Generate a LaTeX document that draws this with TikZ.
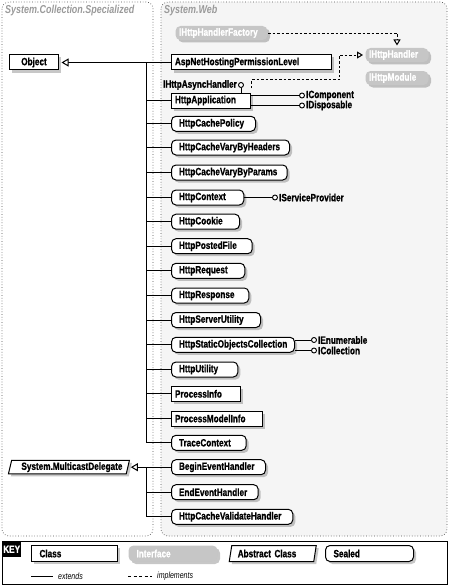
\documentclass[tikz,border=0pt]{standalone}
\usepackage{fontspec}
\setmainfont{Liberation Sans}[FakeStretch=0.78, BoldFeatures={FakeBold=0.9}]
\usetikzlibrary{arrows.meta,shapes.geometric,shadows,calc}
\hyphenpenalty=10000
\exhyphenpenalty=10000
\definecolor{regfill}{HTML}{F5F5F5}
\definecolor{ifill}{HTML}{C6C6C6}
\definecolor{titlegray}{HTML}{9A9A9A}
\definecolor{dotgray}{HTML}{505050}
\begin{document}
\begin{tikzpicture}[x=1pt,y=-1pt,
  fnt/.style={font=\bfseries\fontsize{10.5}{12}\selectfont},
  bx/.style={fnt, anchor=west, minimum height=15pt, inner ysep=0pt, align=left, line width=1pt,
    drop shadow={shadow xshift=2.5pt,shadow yshift=-2.5pt,fill=black,opacity=0.22}},
  cls/.style={bx, draw, fill=white, inner xsep=3.5pt},
  sld/.style={bx, draw, fill=white, rounded corners=4.5pt, inner xsep=7.5pt},
  ifc/.style={bx, fill=ifill, text=white, rounded corners=5pt, inner xsep=3.5pt, minimum height=14pt},
  abst/.style={bx, draw, fill=white, trapezium, trapezium left angle=72, trapezium right angle=108,
    trapezium stretches body, inner xsep=3pt},
  tw/.style={text width=#1pt},
  ln/.style={line width=1pt, draw=black},
  ext/.style={ln, -{Triangle[width=8pt,length=7pt,fill=white,line width=1pt]}, shorten >=2.5pt},
  impl/.style={line width=0.7pt, dash pattern=on 2.5pt off 2pt,
    -{Triangle[width=7pt,length=6pt,fill=white,line width=1pt]}, shorten >=2pt},
  lolli/.style={circle, draw, line width=0.9pt, fill=white, inner sep=0pt, minimum size=5pt},
  llbl/.style={fnt, inner sep=1pt},
  region/.style={draw=dotgray, line width=0.7pt, dotted, rounded corners=7pt},
  ttl/.style={font=\bfseries\itshape\fontsize{11.5}{13}\selectfont, text=titlegray, anchor=west, inner sep=0pt}
]
\useasboundingbox (0,0) rectangle (449,586);

% regions
\draw[region] (2,2) rectangle (153,536);
\draw[region, fill=regfill] (161,2) rectangle (447,536);
\node[ttl] (t1) at (5,11) {System.Collection.Specialized};
\node[ttl] (t2) at (164,11) {System.Web};

% nodes
\node[cls, tw=42, align=center] (obj) at (9,62.5) {Object};
\node[cls, tw=153] (asp) at (171,62.5) {AspNetHostingPermissionLevel};
\node[ifc, tw=85] (ihf) at (175,33) {IHttpHandlerFactory};
\node[ifc, tw=56] (ihh) at (365,55) {IHttpHandler};
\node[ifc, tw=56] (ihm) at (365,78) {IHttpModule};
\node[cls, tw=72] (hap) at (171,100.5) {HttpApplication};
\node[sld, tw=69] (hcp) at (171,123.8) {HttpCachePolicy};
\node[sld, tw=103] (hvh) at (171,147.5) {HttpCacheVaryByHeaders};
\node[sld, tw=100.7] (hvp) at (171,172.5) {HttpCacheVaryByParams};
\node[sld, tw=57.3] (hctx) at (171,197.5) {HttpContext};
\node[sld, tw=53] (hck) at (171,221.7) {HttpCookie};
\node[sld, tw=65.7] (hpf) at (171,246.2) {HttpPostedFile};
\node[sld, tw=58.3] (hrq) at (171,270.8) {HttpRequest};
\node[sld, tw=62.3] (hrs) at (171,295.5) {HttpResponse};
\node[sld, tw=74] (hsu) at (171,320) {HttpServerUtility};
\node[sld, tw=108] (hsoc) at (171,344.8) {HttpStaticObjectsCollection};
\node[sld, tw=51.3] (hut) at (171,369.5) {HttpUtility};
\node[cls, tw=62] (pin) at (171,393.8) {ProcessInfo};
\node[cls, tw=84.3] (pmi) at (171,418.5) {ProcessModelInfo};
\node[sld, tw=59.7] (trc) at (171,442.8) {TraceContext};
\node[sld, tw=79] (beh) at (171,467.2) {BeginEventHandler};
\node[sld, tw=71.7] (eeh) at (171,492.2) {EndEventHandler};
\node[sld, tw=106.3] (hcv) at (171,516.8) {HttpCacheValidateHandler};
\node[abst, tw=95, minimum width=121pt, minimum height=13.5pt] (md) at (9.5,467.2) {System.MulticastDelegate};

% extends connectors
\coordinate (tk) at (146,62.5);
\coordinate (tk2) at (146,467.2);
\draw[ext] (asp.west) -- (obj.east);
\foreach \n in {hap,hcp,hvh,hvp,hctx,hck,hpf,hrq,hrs,hsu,hsoc,hut,pin,pmi,trc}
  \draw[ln] (tk) |- (\n.west);
\draw[ext] (beh.west) -- (md.east);
\foreach \n in {eeh,hcv}
  \draw[ln] (tk2) |- (\n.west);

% implements (dashed)
\coordinate (hstub) at (251.5,88);
\coordinate (bend) at (339.5,79.5);
\draw[impl] (hstub) |- (bend) |- (ihh.west);
\draw[impl] (ihf.east) -| (ihh.north);

% lollipops
\node[lolli] (casync) at (241,85) {};
\draw[ln] (casync) -- (casync |- hap.north);
\node[llbl, anchor=east] (lasync) at (casync.west) {IHttpAsyncHandler};
\node[lolli] (ccomp) at (302,95.5) {};
\draw[ln] (hap.east |- ccomp) -- (ccomp);
\node[llbl, anchor=west] (lcomp) at (ccomp.east) {IComponent};
\node[lolli] (cdisp) at (302,105.5) {};
\draw[ln] (hap.east |- cdisp) -- (cdisp);
\node[llbl, anchor=west] (ldisp) at (cdisp.east) {IDisposable};
\node[lolli] (csp) at (275,197.5) {};
\draw[ln] (hctx.east) -- (csp);
\node[llbl, anchor=west] (lsp) at (csp.east) {IServiceProvider};
\node[lolli] (cen) at (314,340) {};
\draw[ln] (hsoc.east |- cen) -- (cen);
\node[llbl, anchor=west] (len) at (cen.east) {IEnumerable};
\node[lolli] (ccol) at (314,350.5) {};
\draw[ln] (hsoc.east |- ccol) -- (ccol);
\node[llbl, anchor=west] (lcol) at (ccol.east) {ICollection};

% key
\draw[line width=0.8pt] (2,541) rectangle (447,584);
\node[fill=black, text=white, fnt, anchor=north west, minimum width=19pt, minimum height=16pt, inner sep=1pt] (key) at (2,541) {KEY};
\node[cls, tw=70, inner xsep=8pt, minimum height=16pt] (kc) at (31,553.5) {Class};
\node[ifc, tw=73, inner xsep=8pt, minimum height=16pt] (ki) at (128,553.5) {Interface};
\node[abst, tw=70, minimum width=87pt, minimum height=16pt] (ka) at (230,553.5) {Abstract Class};
\node[sld, tw=72, inner xsep=8pt, minimum height=16pt] (ks) at (325,553.5) {Sealed};
\coordinate (e1) at (31,576);
\coordinate (e2) at (53,576);
\draw[line width=1pt] (e1) -- (e2);
\node[anchor=west, font=\itshape\fontsize{9}{10}\selectfont, inner sep=0pt] (ke) at (58,576) {extends};
\coordinate (i1) at (128,576);
\coordinate (i2) at (152,576);
\draw[line width=0.7pt, dash pattern=on 3pt off 2.5pt] (i1) -- (i2);
\node[anchor=west, font=\itshape\fontsize{9}{10}\selectfont, inner sep=0pt] (kim) at (157,576) {implements};
\end{tikzpicture}
\end{document}
